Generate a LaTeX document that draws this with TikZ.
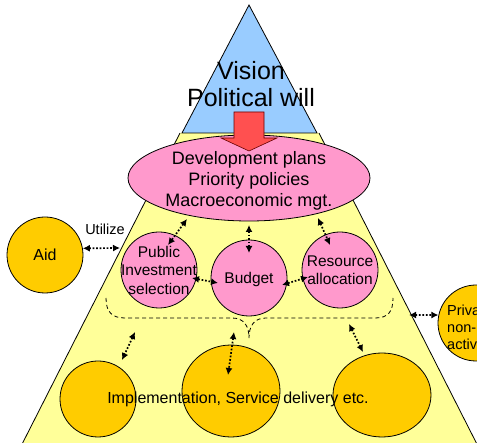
\documentclass[tikz,border=0pt]{standalone}
\usepackage{fontspec}
\setmainfont{Liberation Sans}
\usetikzlibrary{arrows.meta,shapes.geometric}
\definecolor{pinkf}{HTML}{FF99CC}
\definecolor{orangef}{HTML}{FFCC00}
\definecolor{bluef}{HTML}{99CCFF}
\definecolor{yellowf}{HTML}{FFFF99}
\definecolor{redf}{HTML}{FF5050}
\begin{document}
\begin{tikzpicture}[x=1pt,y=-1pt,
  outl/.style={draw=black,line width=0.8pt},
  pinkcirc/.style={circle,outl,fill=pinkf,minimum size=76pt,inner sep=0pt},
  orangecirc/.style={circle,outl,fill=orangef,minimum size=76pt,inner sep=0pt},
  orangeell/.style={ellipse,outl,fill=orangef,inner sep=0pt},
  ctext/.style={align=center,inner sep=0pt,font=\fontsize{15.5}{18.5}\selectfont},
  dotarrow/.style={{Latex[length=7pt,width=7pt]}-{Latex[length=7pt,width=7pt]},line width=1.7pt,dash pattern=on 1.7pt off 1.8pt},
]
\useasboundingbox (0,0) rectangle (477,443);
\clip (0,0) rectangle (477,443);
% pyramid
\fill[yellowf] (180,133) -- (319,133) -- (485,460) -- (14,460) -- cycle;
\draw[line width=0.8pt] (180,133) -- (14,460);
\draw[line width=0.8pt] (319,133) -- (485,460);
\filldraw[fill=bluef,outl] (249,5) -- (317,133) -- (182,133) -- cycle;
\node[align=center,inner sep=0pt,font=\fontsize{25}{26.5}\selectfont] (vis) at (251,84) {Vision\\Political will};
% brace
\draw[dashed,line width=0.8pt,dash pattern=on 4pt off 3pt] (106,298) .. controls (106,312) and (112,318) .. (125,318) -- (232,318) .. controls (244,318) and (249,326) .. (249,338) .. controls (249,326) and (254,318) .. (266,318) -- (375,318) .. controls (388,318) and (393,312) .. (393,298);
% main ellipse
\node[ellipse,outl,fill=pinkf,minimum width=242pt,minimum height=86pt,inner sep=0pt] (dev) at (249,178) {};
\node[align=center,inner sep=0pt,font=\fontsize{18}{21}\selectfont] (devt) at (249,181) {Development plans\\Priority policies\\Macroeconomic mgt.};
% red arrow
\filldraw[fill=redf,draw=black!60!red,line width=0.6pt] (234,112) -- (264,112) -- (264,138) -- (277,138) -- (249,151) -- (221,138) -- (234,138) -- cycle;
% pink circles
\node[pinkcirc] (pis) at (159,270) {};
\node[ctext] (pist) at (159,270) {Public\\Investment\\selection};
\node[pinkcirc] (bud) at (249,278) {};
\node[ctext] (budt) at (249,279) {Budget};
\node[pinkcirc] (res) at (340,270) {};
\node[ctext] (rest) at (340,270) {Resource\\allocation};
% aid and private
\node[orangecirc] (aid) at (45,255) {};
\node[ctext,font=\fontsize{16}{19}\selectfont] (aidt) at (45,255) {Aid};
\node[inner sep=0pt,font=\fontsize{14.5}{17}\selectfont] (util) at (105,229) {Utilize};
\node[orangecirc] (priv) at (476,323) {};
\node[align=left,anchor=north west,inner sep=0pt,font=\fontsize{14.5}{17}\selectfont] (privt) at (447,304.5) {Priva\\non-\\activ};
% bottom ellipses
\node[orangecirc] (imp1) at (98,399) {};
\node[orangeell,minimum width=98pt,minimum height=92pt] (imp2) at (231,391) {};
\node[orangeell,minimum width=98pt,minimum height=84pt] (imp3) at (382,395) {};
\node[inner sep=0pt,font=\fontsize{16}{19}\selectfont] (impt) at (238,399) {Implementation, Service delivery etc.};
% arrow end points
\coordinate (trapL) at (120,248);
\coordinate (trapR) at (409,315);
\coordinate (p1a) at (187,219); \coordinate (p1b) at (168,245);
\coordinate (p2a) at (249,225); \coordinate (p2b) at (249,253);
\coordinate (p3a) at (318,218); \coordinate (p3b) at (330,245);
\coordinate (h1a) at (192,278); \coordinate (h1b) at (218,283);
\coordinate (h2a) at (282,285); \coordinate (h2b) at (308,277);
\coordinate (l1a) at (135,332); \coordinate (l1b) at (122,360);
\coordinate (l2a) at (234,332); \coordinate (l2b) at (228,375);
\coordinate (l3a) at (349,324); \coordinate (l3b) at (363,352);
% dotted arrows
\draw[dotarrow] (aid.10) -- (trapL);
\draw[dotarrow] (trapR) -- (priv.168);
\draw[dotarrow] (p1a) -- (p1b);
\draw[dotarrow] (p2a) -- (p2b);
\draw[dotarrow] (p3a) -- (p3b);
\draw[dotarrow] (h1a) -- (h1b);
\draw[dotarrow] (h2a) -- (h2b);
\draw[dotarrow] (l1a) -- (l1b);
\draw[dotarrow] (l2a) -- (l2b);
\draw[dotarrow] (l3a) -- (l3b);
\end{tikzpicture}
\end{document}
